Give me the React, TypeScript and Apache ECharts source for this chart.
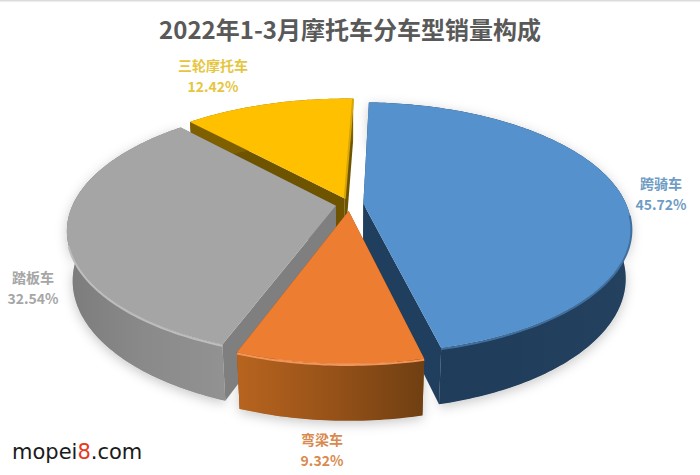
import React, { useEffect, useRef } from "react";
import * as echarts from "echarts";

const categories = ["跨骑车", "弯梁车", "踏板车", "三轮摩托车"];
const shares = [45.72, 9.32, 32.54, 12.42];
const topColors = ["#5591cd", "#ed7d31", "#a5a5a5", "#ffc000"];
const radialColors = ["#203f5e", "#8a4a17", "#7f7f7f", "#6f5400"];
const wallStops = [
  ["#1f3c59", "#203d5b", "#24425f"],
  ["#b8641f", "#975218", "#6f3f12"],
  ["#7c7c7c", "#8a8a8a", "#929292"],
  ["#7f6000", "#7f6000", "#7f6000"],
];
const bevelColors = ["#3f6f9f", "#f39558", "#bdbdbd", "#ffc000"];
const labelColors = ["#6f9cc4", "#d98a4f", "#a6a6a6", "#e6c63f"];
const labelCenters = [
  [661, 183],
  [322, 439],
  [33, 277],
  [213, 65],
];
const paintOrder = [2, 4, 3, 1];

const startAngle = 2.0;
const explode = 0.053;
const view = { cx: 349.5, cy: 204.5, rx: 263, ry: 121, k: 0.19, m: 0.02, h: 50 };

function project(u: number, v: number, t: number): number[] {
  const s = 1 / (1 - view.k * v + view.m * t);
  return [view.cx + view.rx * u * s, view.cy + view.ry * v * s + view.h * t * s];
}

function sliceAngles(i: number) {
  const total = shares.reduce((a, b) => a + b, 0);
  const before = shares.slice(0, i).reduce((a, b) => a + b, 0);
  const a0 = startAngle + (before / total) * 360;
  return [a0, a0 + (shares[i] / total) * 360];
}

function renderSlice(params: any) {
  const i = params.dataIndex;
  const [a0, a1] = sliceAngles(i);
  const mid = (((a0 + a1) / 2) * Math.PI) / 180;
  const ou = explode * Math.sin(mid);
  const ov = -explode * Math.cos(mid);
  const rim = (t: number, from = a0, to = a1) => {
    const pts: number[][] = [];
    const n = Math.max(2, Math.ceil(to - from));
    for (let j = 0; j <= n; j++) {
      const a = ((from + ((to - from) * j) / n) * Math.PI) / 180;
      pts.push(project(ou + Math.sin(a), ov - Math.cos(a), t));
    }
    return pts;
  };
  const apex = (t: number) => project(ou, ov, t);
  const z = paintOrder[i] * 10;
  const outer = [...rim(0), ...rim(1).reverse()];
  const stops = wallStops[i];
  const children: any[] = [];
  if (i !== 3) {
    children.push({
      type: "polygon",
      z2: 1,
      shape: { points: outer },
      style: {
        fill: "#cfcfcf",
        shadowBlur: 12,
        shadowColor: "rgba(0,0,0,0.22)",
        shadowOffsetY: 3,
      },
    });
  }
  const r0 = rim(0);
  const r1 = rim(1);
  children.push({
    type: "polygon",
    z2: z,
    shape: { points: [apex(0), r0[r0.length - 1], r1[r1.length - 1], apex(1)] },
    style: { fill: radialColors[i] },
  });
  children.push({
    type: "polygon",
    z2: z,
    shape: { points: [apex(0), r0[0], r1[0], apex(1)] },
    style: { fill: radialColors[i] },
  });
  children.push({
    type: "polygon",
    z2: z + 1,
    shape: { points: outer },
    style: {
      fill: new echarts.graphic.LinearGradient(0, 0, 1, 0, [
        { offset: 0, color: stops[0] },
        { offset: 0.5, color: stops[1] },
        { offset: 1, color: stops[2] },
      ]),
    },
  });
  children.push({
    type: "polygon",
    z2: z + 2,
    shape: { points: [apex(0), ...r0] },
    style: { fill: topColors[i] },
  });
  if (i === 3) {
    // thin gilded edge on the far side of the yellow slice
    children.push({
      type: "polyline",
      z2: z + 3,
      shape: { points: [apex(0), r0[r0.length - 1]] },
      style: { fill: "none", stroke: "#d6a508", lineWidth: 2 },
    });
  }
  const from = Math.max(a0, 95);
  const to = Math.min(a1, 252);
  if (to > from) {
    children.push({
      type: "polyline",
      z2: z + 3,
      shape: { points: rim(0.02, from, to) },
      style: { fill: "none", stroke: bevelColors[i], lineWidth: 2 },
    });
  }
  return { type: "group", children };
}

const labelTexts = categories.flatMap((name, i) => [
  {
    type: "text",
    x: labelCenters[i][0],
    y: labelCenters[i][1],
    style: {
      text: name,
      fill: labelColors[i],
      font: 'bold 14px "Noto Sans CJK SC"',
      align: "center",
      verticalAlign: "middle",
    },
  },
  {
    type: "text",
    x: labelCenters[i][0],
    y: labelCenters[i][1] + 21,
    style: {
      text: shares[i].toFixed(2) + "%",
      fill: labelColors[i],
      font: 'bold 14px "Noto Sans CJK SC"',
      align: "center",
      verticalAlign: "middle",
    },
  },
]);

export default function App() {
  const ref = useRef<HTMLDivElement>(null);
  useEffect(() => {
    const chart = echarts.init(ref.current!, undefined, { renderer: "svg" });
    chart.setOption({
      animation: false,
      backgroundColor: "#ffffff",
      title: {
        text: "2022年1-3月摩托车分车型销量构成",
        left: "center",
        top: 11,
        textStyle: {
          fontFamily: "Noto Sans CJK SC",
          fontWeight: "bold",
          fontSize: 24,
          color: "#595959",
        },
      },
      graphic: [
        {
          type: "rect",
          shape: { x: 0, y: 0, width: 700, height: 1.5 },
          style: { fill: "#dcdcdc" },
        },
        ...labelTexts,
        {
          type: "text",
          x: 12,
          y: 452,
          style: {
            text: "{a|mopei}{b|8}{a|.com}",
            verticalAlign: "middle",
            rich: {
              a: { font: '21px "DejaVu Sans"', fill: "#1a1a1a" },
              b: { font: '21px "DejaVu Sans"', fill: "#e8391d" },
            },
          },
        },
      ],
      series: [
        {
          type: "custom",
          coordinateSystem: "none",
          silent: true,
          data: shares.map((v) => [v]),
          renderItem: renderSlice,
        },
      ],
    });
    return () => chart.dispose();
  }, []);
  return <div ref={ref} style={{ position: "fixed", left: 0, top: 0, width: 700, height: 475 }} />;
}
